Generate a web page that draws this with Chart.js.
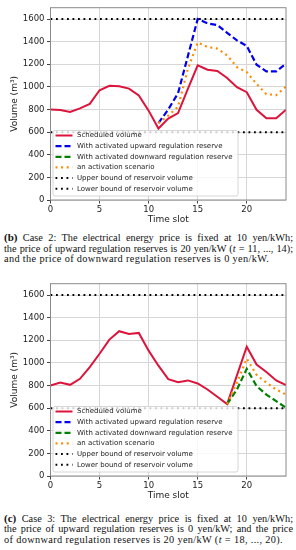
<!DOCTYPE html>
<html>
<head>
<meta charset="utf-8">
<script src="https://cdn.jsdelivr.net/npm/chart.js@4.4.0/dist/chart.umd.min.js"></script>
<style>
  body { margin: 0; background: #fff; width: 296px; height: 550px; position: relative; overflow: hidden; }
  .box { position: absolute; left: 0; width: 296px; height: 226px; }
  .cap { position: absolute; left: 4px; width: 289px; font-family: "Liberation Serif", serif; font-size: 10.3px; line-height: 10.5px; color: #111; }
  .cap div { text-align: justify; text-align-last: justify; white-space: nowrap; }
  .cap div.last { text-align-last: left; letter-spacing: 0.35px; }
  .cap b { font-size: 11px; }
</style>
</head>
<body>
<div class="box" style="top:0px"><canvas id="case2"></canvas></div>
<div class="cap" style="top:232px">
  <div><b>(b)</b> Case 2: The electrical energy price is fixed at 10 yen/kWh;</div>
  <div>the price of upward regulation reserves is 20 yen/kW (<i>t</i> = 11, ..., 14);</div>
  <div class="last">and the price of downward regulation reserves is 0 yen/kW.</div>
</div>
<div class="box" style="top:276px"><canvas id="case3"></canvas></div>
<div class="cap" style="top:512.5px">
  <div><b>(c)</b> Case 3: The electrical energy price is fixed at 10 yen/kWh;</div>
  <div>the price of upward regulation reserves is 0 yen/kW; and the price</div>
  <div class="last">of downward regulation reserves is 20 yen/kW (<i>t</i> = 18, ..., 20).</div>
</div>
<script>
const slots = [0, 1, 2, 3, 4, 5, 6, 7, 8, 9, 10, 11, 12, 13, 14, 15, 16, 17, 18, 19, 20, 21, 22, 23, 24];
const yTicks = [0, 200, 400, 600, 800, 1000, 1200, 1400, 1600];
const xTicks = [0, 5, 10, 15, 20];
const upperBound = 1600;
const lowerBound = 600;

const seriesNames = ['Scheduled volume', 'With activated upward regulation reserve',
  'With activated downward regulation reserve', 'an activation scenario',
  'Upper bound of reservoir volume', 'Lower bound of reservoir volume'];

const N = null;
// case 2 (b)
const scheduled2 = [800, 795, 778, 810, 850, 970, 1010, 1005, 985, 925, 790, 632, 719, 768, 982, 1190, 1152, 1140, 1078, 997, 953, 797, 723, 723, 798];
const upward2 = [N, N, N, N, N, N, N, N, N, N, N, 680, 800, 945, 1272, 1600, 1561, 1547, 1478, 1411, 1362, 1196, 1137, 1137, 1205];
const downward2 = [N, N, N, N, N, N, N, N, N, N, N, N, N, N, N, N, N, N, N, N, N, N, N, N, N];
const activation2 = [N, N, N, N, N, N, N, N, N, N, N, 680, 745, 825, 1160, 1392, 1353, 1338, 1279, 1175, 1130, 1026, 936, 927, 1002];
// case 3 (c)
const scheduled3 = [800, 827, 806, 859, 963, 1081, 1206, 1280, 1256, 1265, 1108, 975, 856, 830, 845, 818, 765, 700, 635, 889, 1143, 986, 919, 845, 804];
const upward3 = [N, N, N, N, N, N, N, N, N, N, N, N, N, N, N, N, N, N, N, N, N, N, N, N, N];
const downward3 = [N, N, N, N, N, N, N, N, N, N, N, N, N, N, N, N, N, N, 635, 765, 948, 795, 720, 662, 603];
const activation3 = [N, N, N, N, N, N, N, N, N, N, N, N, N, N, N, N, N, N, 635, 824, 1037, 895, 825, 765, 720];

const styles = [
  { color: '#dc143c', width: 2, dash: [] },
  { color: '#0000ee', width: 2.2, dash: [6, 3] },
  { color: '#008000', width: 2.2, dash: [6, 3] },
  { color: '#ff8c00', width: 2.2, dash: [2, 3.6] },
  { color: '#000000', width: 2, dash: [1.8, 3.7] },
  { color: '#000000', width: 2, dash: [1.8, 3.7] }
];

// frame on all four sides, like matplotlib spines
const frame = {
  id: 'frame',
  afterDatasetsDraw(chart) {
    const { ctx, chartArea: a } = chart;
    ctx.save();
    ctx.strokeStyle = '#8a8a8a';
    ctx.lineWidth = 1;
    ctx.strokeRect(a.left, a.top, a.right - a.left, a.bottom - a.top);
    ctx.restore();
  }
};

// legend sits inside the plot, lower left
const insideLegend = {
  id: 'insideLegend',
  afterDraw(chart) {
    const { ctx, chartArea: a } = chart;
    const x0 = a.left + 2.5;
    const y1 = a.bottom - 4;
    const y0 = y1 - 65.5;
    ctx.save();
    ctx.fillStyle = 'rgba(255,255,255,0.8)';
    ctx.strokeStyle = '#cccccc';
    ctx.lineWidth = 0.8;
    ctx.beginPath();
    ctx.roundRect(x0, y0, 185, y1 - y0, 2);
    ctx.fill();
    ctx.stroke();
    ctx.font = '7px "DejaVu Sans"';
    ctx.textBaseline = 'middle';
    chart.data.datasets.forEach((ds, i) => {
      const y = y0 + 5 + 10.65 * i;
      ctx.strokeStyle = ds.borderColor;
      ctx.lineWidth = ds.borderWidth;
      ctx.setLineDash(ds.borderDash);
      ctx.beginPath();
      ctx.moveTo(x0 + 2.5, y);
      ctx.lineTo(x0 + 19.5, y);
      ctx.stroke();
      ctx.setLineDash([]);
      ctx.fillStyle = '#222';
      ctx.fillText(ds.label, x0 + 24, y);
    });
    ctx.restore();
  }
};

function makeChart(id, scheduled, upward, downward, activation) {
  const upper = slots.map(() => upperBound);
  const lower = slots.map(() => lowerBound);
  const all = [scheduled, upward, downward, activation, upper, lower];
  const datasets = all.map((vals, i) => ({
    label: seriesNames[i],
    data: slots.map((s, k) => ({ x: s, y: vals[k] })),
    borderColor: styles[i].color,
    backgroundColor: styles[i].color,
    borderWidth: styles[i].width,
    borderDash: styles[i].dash,
    borderCapStyle: 'butt',
    pointRadius: 0,
    tension: 0,
    fill: false,
    order: -i
  }));

  new Chart(document.getElementById(id), {
    type: 'line',
    data: { datasets: datasets },
    options: {
      responsive: true,
      maintainAspectRatio: false,
      animation: false,
      layout: { padding: { top: 7.7, right: 10, bottom: 0, left: 0 } },
      plugins: { legend: { display: false }, tooltip: { enabled: false } },
      scales: {
        x: {
          type: 'linear',
          min: 0,
          max: 24,
          afterFit: s => { s.height = 26; },
          afterBuildTicks: s => { s.ticks = xTicks.map(v => ({ value: v })); },
          ticks: { font: { family: 'DejaVu Sans', size: 8.5 }, color: '#222', padding: 1.5, maxRotation: 0, callback: v => String(v) },
          grid: { color: '#d6d6d6', lineWidth: 1, tickColor: '#444', tickLength: 3.5 },
          border: { display: false },
          title: { display: true, text: 'Time slot', font: { family: 'DejaVu Sans', size: 9 }, color: '#222', padding: { top: 0, bottom: 1 } }
        },
        y: {
          min: 0,
          max: 1700,
          afterFit: s => { s.width = 50.5; },
          afterBuildTicks: s => { s.ticks = yTicks.map(v => ({ value: v })); },
          ticks: { font: { family: 'DejaVu Sans', size: 8.5 }, color: '#222', padding: 2.5, callback: v => String(v) },
          grid: { color: '#d6d6d6', lineWidth: 1, tickColor: '#444', tickLength: 3.5 },
          border: { display: false },
          title: { display: true, text: 'Volume (m³)', font: { family: 'DejaVu Sans', size: 9 }, color: '#222', padding: { top: 9, bottom: 0 } }
        }
      }
    },
    plugins: [frame, insideLegend]
  });
}

makeChart('case2', scheduled2, upward2, downward2, activation2);
makeChart('case3', scheduled3, upward3, downward3, activation3);
</script>
</body>
</html>
